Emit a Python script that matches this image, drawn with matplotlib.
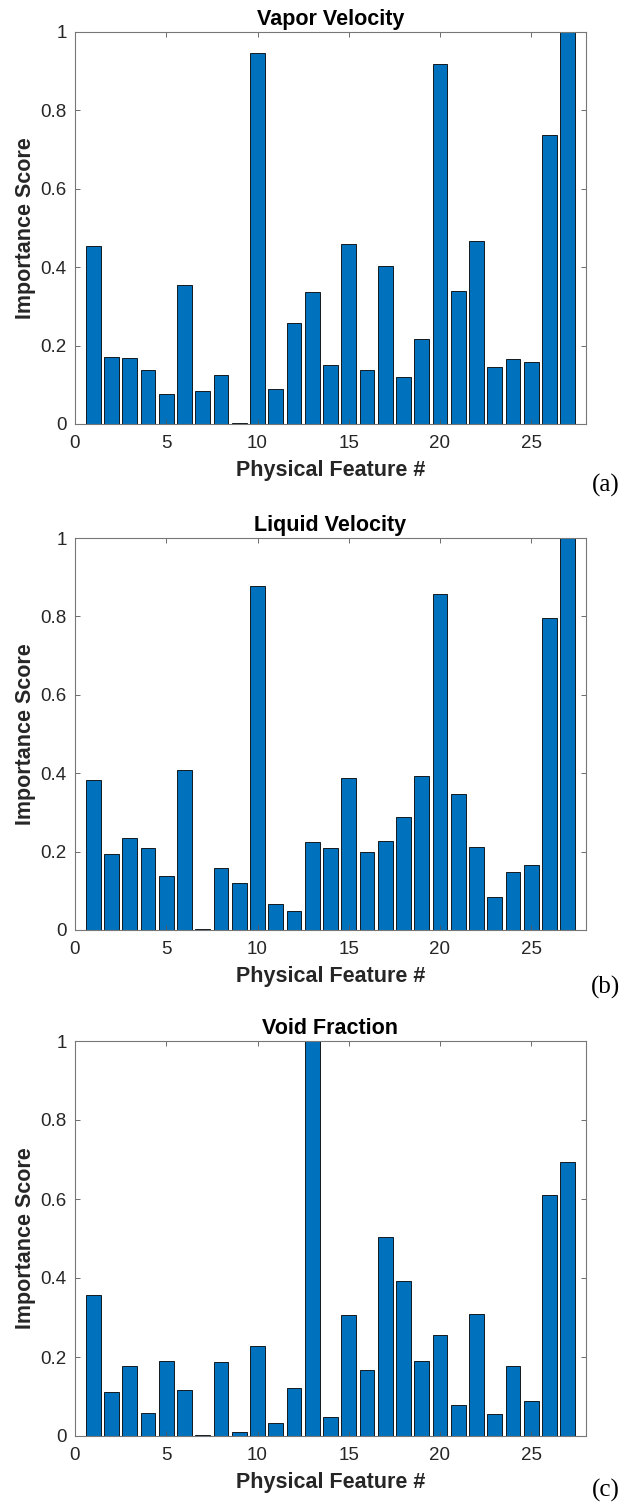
import matplotlib
matplotlib.use("Agg")
import matplotlib.pyplot as plt
import numpy as np

features = list(range(1, 28))

vapor_velocity = [0.455, 0.171, 0.169, 0.137, 0.077, 0.355, 0.084, 0.125, 0.002,
                  0.946, 0.089, 0.258, 0.336, 0.150, 0.460, 0.139, 0.402, 0.120,
                  0.218, 0.919, 0.340, 0.467, 0.146, 0.166, 0.157, 0.736, 1.000]
liquid_velocity = [0.382, 0.195, 0.235, 0.210, 0.137, 0.408, 0.002, 0.158, 0.121,
                   0.878, 0.067, 0.049, 0.225, 0.210, 0.387, 0.200, 0.226, 0.289,
                   0.393, 0.858, 0.346, 0.213, 0.085, 0.147, 0.167, 0.795, 1.000]
void_fraction = [0.356, 0.111, 0.177, 0.057, 0.189, 0.116, 0.002, 0.188, 0.011,
                 0.227, 0.033, 0.121, 1.000, 0.049, 0.307, 0.167, 0.505, 0.392,
                 0.189, 0.256, 0.078, 0.309, 0.055, 0.176, 0.089, 0.611, 0.693]

titles = ["Vapor Velocity", "Liquid Velocity", "Void Fraction"]
panel_labels = ["(a)", "(b)", "(c)"]
xticks = [0, 5, 10, 15, 20, 25]
yticks = [0, 0.2, 0.4, 0.6, 0.8, 1.0]
yticklabels = ["0", "0.2", "0.4", "0.6", "0.8", "1"]

W, H = 626, 1507
fig = plt.figure(figsize=(W / 100, H / 100), dpi=100)

# axes pixel boxes: (left, top, right, bottom)
boxes = [(75, 32, 586, 424), (75, 538, 586, 930), (75, 1041, 586, 1436)]
label_y = [485, 987, 1490]

sans = ["Liberation Sans", "DejaVu Sans"]
serif = ["Liberation Serif", "DejaVu Serif"]
txt_col = "#262626"
bar_col = "#0072BD"

for data, title, plab, box, ly in zip(
        [vapor_velocity, liquid_velocity, void_fraction], titles, panel_labels, boxes, label_y):
    l, t, r, b = box
    ax = fig.add_axes([l / W, 1 - b / H, (r - l) / W, (b - t) / H])
    ax.bar(features, data, width=0.8, color=bar_col, edgecolor="black", linewidth=0.6)
    ax.set_xlim(0, 28)
    ax.set_ylim(0, 1)
    ax.set_xticks(xticks)
    ax.set_xticklabels([str(v) for v in xticks], family=sans, fontsize=13.5, color=txt_col)
    ax.set_yticks(yticks)
    ax.set_yticklabels(yticklabels, family=sans, fontsize=13.5, color=txt_col)
    ax.tick_params(direction="in", top=True, right=True, length=3.5, width=0.6,
                   colors="#555555", labelcolor=txt_col)
    ax.tick_params(axis="x", pad=8)
    ax.tick_params(axis="y", pad=6)
    for s in ax.spines.values():
        s.set_color("#777777")
        s.set_linewidth(0.8)
    ax.set_title(title, family=sans, fontsize=15.5, fontweight="bold", color="black", pad=5)
    ax.set_xlabel("Physical Feature #", family=sans, fontsize=15.5, fontweight="bold",
                  color=txt_col, labelpad=6)
    ax.set_ylabel("Importance Score", family=sans, fontsize=15.5, fontweight="bold",
                  color=txt_col, labelpad=3)
    fig.text(606 / W, 1 - ly / H, plab, family=serif, fontsize=18, ha="center", va="center",
             color="black")

fig.savefig("out.png", dpi=100)
